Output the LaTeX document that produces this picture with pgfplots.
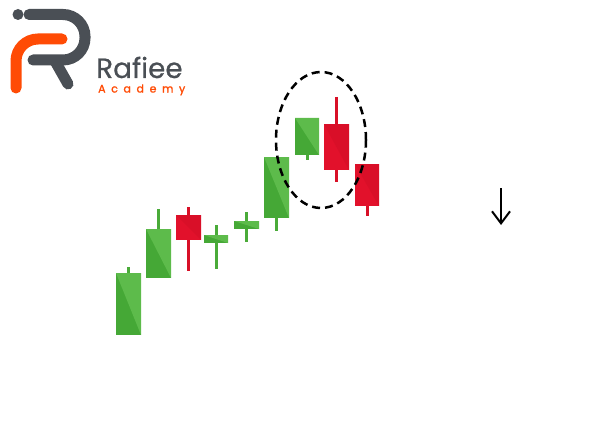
\documentclass[border=0pt]{standalone}
\usepackage{pgfplots}
\pgfplotsset{compat=1.18}
\usepackage{fontspec}
\usetikzlibrary{arrows.meta}
\newfontfamily\logofont[FakeBold=0.6]{Poppins}
\newfontfamily\logofontb[FakeBold=1.5]{Poppins}

\definecolor{gdark}{HTML}{45A836}
\definecolor{glight}{HTML}{5DBB4B}
\definecolor{gwick}{HTML}{4AAB39}
\definecolor{rdark}{HTML}{E2112B}
\definecolor{rlight}{HTML}{D90F28}
\definecolor{rwick}{HTML}{D81027}
\definecolor{logogray}{HTML}{4A4F55}
\definecolor{logoorange}{HTML}{FF4B05}

% #1 wick x, #2 left, #3 right, #4 body top, #5 body bottom, #6 high, #7 low, #8 g or r
\newcommand\candle[8]{%
  \addplot[#8wick, line width=3bp, no marks] coordinates {(#1,#6) (#1,#7)};
  \addplot[fill=#8dark, draw=none, no marks] coordinates {(#2,#4) (#3,#4) (#3,#5) (#2,#5)};
  \addplot[fill=#8light, draw=none, no marks] coordinates {(#2,#4) (#3,#4) (#3,#5)};
}

\begin{document}
\begin{tikzpicture}
\begin{axis}[
    width=602bp, height=421bp, scale only axis,
    xmin=0, xmax=602, ymin=0, ymax=421,
    y dir=reverse,
    hide axis, clip=false,
]
\path (rel axis cs:0,0) rectangle (rel axis cs:1,1);

% candles, pixel units (y grows downwards)
\candle{128.5}{116}{141}{273}{335}{267}{335}{g}
\candle{158.5}{146}{171}{229}{278}{209}{278}{g}
\candle{188.5}{176}{201}{215}{240}{207}{271}{r}
\candle{216}{204}{228}{235}{243}{225}{269}{g}
\candle{246.5}{234}{259}{221}{229}{212}{242}{g}
\candle{276.5}{264}{289}{157}{218}{157}{231}{g}
\candle{307}{295}{319}{118}{155}{118}{160}{g}
\candle{336.5}{324}{349}{124}{170}{97}{182}{r}
\candle{367}{355}{379}{164}{206}{164}{216}{r}

% dashed ellipse
\draw[line width=2.5bp, dash pattern=on 8bp off 5bp]
    (axis cs:321,140) ellipse [x radius=45bp, y radius=68bp];

% arrow
\draw[line width=2bp, -{Straight Barb[length=12bp,width=18bp]}]
    (axis cs:501,188) -- (axis cs:501,225);

% logo
\fill[logogray] (axis cs:18,14.5) circle[radius=5.5bp];
\draw[logogray, line width=11bp, line cap=round, rounded corners=22bp]
    (axis cs:29,14.5) -- (axis cs:85,14.5) -- (axis cs:85,60) -- (axis cs:33,60);
\draw[logogray, line width=11bp, line cap=round]
    (axis cs:55,61) -- (axis cs:68,84);
\draw[logoorange, line width=11bp, line cap=round, rounded corners=22bp]
    (axis cs:62,39) -- (axis cs:16,39) -- (axis cs:16,88);
\node[anchor=base west, inner sep=0, text=logogray, font=\logofont\fontsize{28}{30}\selectfont]
    at (axis cs:96,78) {Rafiee};
\node[anchor=base west, inner sep=0, text=logoorange, font=\logofontb\fontsize{11}{12}\selectfont]
    at (axis cs:98,92.5) {\makebox[87bp][s]{A\hfill c\hfill a\hfill d\hfill e\hfill m\hfill y}};
\end{axis}
\end{tikzpicture}
\end{document}
